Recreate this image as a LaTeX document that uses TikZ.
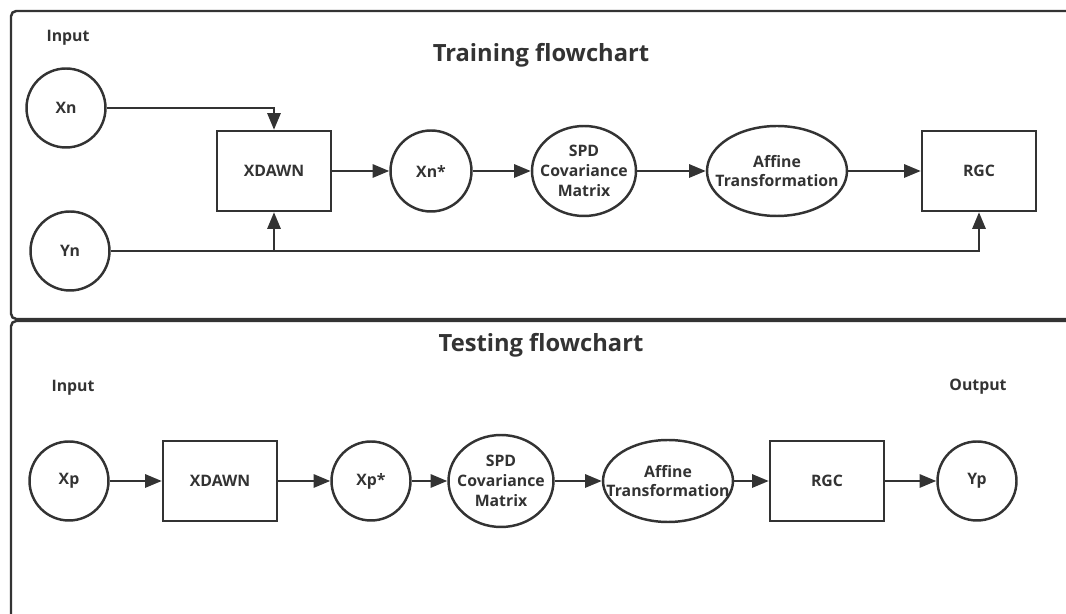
\documentclass[tikz,border=0pt]{standalone}
\usepackage{fontspec}
\setmainfont{Open Sans}
\usetikzlibrary{shapes.geometric,arrows.meta}
\definecolor{ink}{HTML}{333333}

\begin{document}
\begin{tikzpicture}[x=0.02cm,y=-0.02cm,
	every node/.style={font=\fontsize{9}{11.3}\selectfont\bfseries,text=ink,align=center},
	line/.style={draw=ink,line width=1.4pt},
	arr/.style={line,-{Triangle[length=9.5pt,width=7.5pt]}},
	circ/.style={line,circle,minimum size=1.58cm,inner sep=0pt},
	box/.style={line,rectangle,minimum width=2.28cm,minimum height=1.6cm},
	ell/.style={line,ellipse,minimum width=#1,minimum height=1.8cm,inner sep=0pt},
	frame/.style={draw=ink,line width=1.4pt,rounded corners=3pt},
	title/.style={font=\fontsize{13.5}{16}\selectfont\bfseries}]
\clip (0,0) rectangle (1066,614);
\fill[white] (0,0) rectangle (1066,614);
\draw[frame] (11,11) rectangle (1090,319);
\draw[frame] (11,321) rectangle (1090,650);

% training
\node (in1) at (68,38) {Input};
\node[title] (t1) at (541,55) {Training flowchart};
\node[circ] (xn) at (66,108) {Xn};
\node[circ] (yn) at (70,251) {Yn};
\node[box] (xd) at (274,171) {XDAWN};
\node[circ,minimum size=1.62cm] (xs) at (431,171) {Xn*};
\node[ell=2.08cm,label={center:SPD\\Covariance\\Matrix}] (spd) at (584,171) {};
\node[ell=2.8cm,label={center:Affine\\Transformation}] (aff) at (777,171) {};
\node[box] (rgc) at (979,171) {RGC};
\draw[arr] (xn) -| (xd);
\draw[arr] (yn) -- (yn -| rgc) -- (rgc);
\draw[arr] (yn -| xd) -- (xd);
\foreach \a/\b in {xd/xs,xs/spd,spd/aff,aff/rgc}
	\draw[arr] (\a) -- (\b);

% testing
\node[title] (t2) at (541,345) {Testing flowchart};
\node (in2) at (73,388) {Input};
\node (out) at (978,387) {Output};
\node[circ] (xp) at (69,481) {Xp};
\node[box] (xd2) at (220,481) {XDAWN};
\node[circ] (xps) at (371,481) {Xp*};
\node[ell=2.1cm,minimum height=1.84cm,label={center:SPD\\Covariance\\Matrix}] (spd2) at (501,481) {};
\node[ell=2.6cm,minimum height=1.64cm,label={center:Affine\\Transformation}] (aff2) at (668,481) {};
\node[box] (rgc2) at (827,481) {RGC};
\node[circ] (yp) at (977,481) {Yp};
\foreach \a/\b in {xp/xd2,xd2/xps,xps/spd2,spd2/aff2,aff2/rgc2,rgc2/yp}
	\draw[arr] (\a) -- (\b);
\end{tikzpicture}
\end{document}
